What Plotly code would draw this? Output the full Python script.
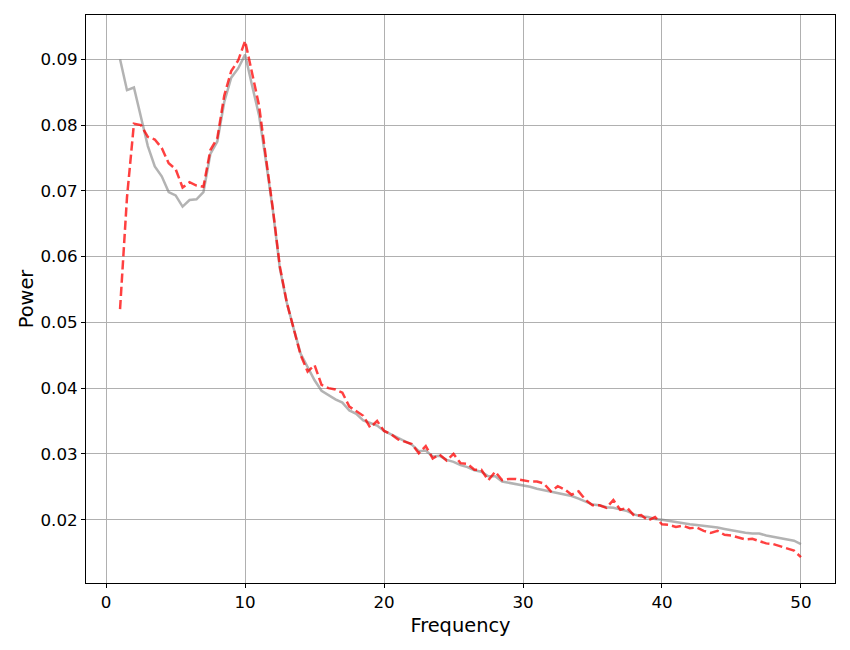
import numpy as np
import plotly.graph_objects as go

freqs = [1.0 + 0.5 * i for i in range(99)]

power_gray = [
    0.0900, 0.0853, 0.0857, 0.0811, 0.0768, 0.0737, 0.0722, 0.0698, 0.0693, 0.0676,
    0.0686, 0.0687, 0.0698, 0.0756, 0.0775, 0.0835, 0.0872, 0.0886, 0.0907, 0.0860,
    0.0815, 0.0745, 0.0670, 0.0582, 0.0530, 0.0490, 0.0452, 0.0432, 0.0412, 0.0396,
    0.0389, 0.0383, 0.0378, 0.0366, 0.0361, 0.0351, 0.0347, 0.0343, 0.0335, 0.0330,
    0.0324, 0.0320, 0.0314, 0.0304, 0.0305, 0.0296, 0.0297, 0.0291, 0.0288, 0.0283,
    0.0280, 0.0275, 0.0273, 0.0266, 0.0266, 0.0258, 0.0256, 0.0255, 0.0253, 0.0250,
    0.0247, 0.0245, 0.0242, 0.0241, 0.0238, 0.0236, 0.0232, 0.0228, 0.0223, 0.0222,
    0.0219, 0.0218, 0.0215, 0.0213, 0.0208, 0.0205, 0.0204, 0.0201, 0.0200, 0.0198,
    0.0197, 0.0195, 0.0193, 0.0192, 0.0191, 0.0189, 0.0188, 0.0186, 0.0184, 0.0181,
    0.0180, 0.0179, 0.0179, 0.0176, 0.0174, 0.0172, 0.0170, 0.0168, 0.0163,
]

power_red = [
    0.0520, 0.0690, 0.0802, 0.0800, 0.0782, 0.0778, 0.0765, 0.0742, 0.0733, 0.0705,
    0.0713, 0.0708, 0.0706, 0.0762, 0.0780, 0.0845, 0.0882, 0.0898, 0.0928, 0.0880,
    0.0830, 0.0750, 0.0672, 0.0585, 0.0530, 0.0490, 0.0450, 0.0425, 0.0435, 0.0405,
    0.0400, 0.0398, 0.0393, 0.0372, 0.0365, 0.0358, 0.0340, 0.0350, 0.0335, 0.0330,
    0.0322, 0.0318, 0.0315, 0.0301, 0.0312, 0.0293, 0.0299, 0.0290, 0.0300, 0.0286,
    0.0285, 0.0276, 0.0276, 0.0260, 0.0273, 0.0260, 0.0262, 0.0262, 0.0260, 0.0258,
    0.0258, 0.0255, 0.0243, 0.0251, 0.0246, 0.0238, 0.0243, 0.0230, 0.0222, 0.0222,
    0.0218, 0.0230, 0.0215, 0.0218, 0.0206, 0.0207, 0.0199, 0.0204, 0.0193, 0.0192,
    0.0189, 0.0191, 0.0187, 0.0188, 0.0183, 0.0180, 0.0183, 0.0177, 0.0176, 0.0173,
    0.0170, 0.0171, 0.0168, 0.0164, 0.0163, 0.0160, 0.0157, 0.0153, 0.0143,
]

x_ticks = [0, 10, 20, 30, 40, 50]
y_ticks = [0.02, 0.03, 0.04, 0.05, 0.06, 0.07, 0.08, 0.09]

fig = go.Figure()
fig.add_trace(go.Scatter(
    x=freqs, y=power_gray, mode="lines",
    line=dict(color="rgba(128,128,128,0.6)", width=2.5),
    showlegend=False,
))
fig.add_trace(go.Scatter(
    x=freqs, y=power_red, mode="lines",
    line=dict(color="rgba(255,0,0,0.75)", width=2.5, dash="9.25px,4px"),
    showlegend=False,
))

xmin, xmax = min(freqs), max(freqs)
xpad = 0.05 * (xmax - xmin)
allv = power_gray + power_red
ymin, ymax = min(allv), max(allv)
ypad = 0.05 * (ymax - ymin)

axis_common = dict(
    showline=True, linecolor="black", linewidth=1, mirror=True,
    showgrid=True, gridcolor="#b0b0b0", gridwidth=1,
    ticks="outside", ticklen=4, tickcolor="black", tickwidth=1,
    zeroline=False,
    tickfont=dict(family="DejaVu Sans", size=16.7, color="black"),
)

fig.update_layout(
    width=850, height=650,
    margin=dict(l=86, r=15, t=15, b=67),
    plot_bgcolor="white", paper_bgcolor="white",
    font=dict(family="DejaVu Sans", color="black"),
    xaxis=dict(
        range=[xmin - xpad, xmax + xpad], tickvals=x_ticks,
        ticktext=[str(v) for v in x_ticks],
        title=dict(text="Frequency", font=dict(size=19.4), standoff=7),
        **axis_common,
    ),
    yaxis=dict(
        range=[ymin - ypad, ymax + ypad], tickvals=y_ticks,
        ticktext=[f"{v:.2f}" for v in y_ticks],
        title=dict(text="Power", font=dict(size=19.4), standoff=1),
        **axis_common,
    ),
)

fig.write_html("out.html")
